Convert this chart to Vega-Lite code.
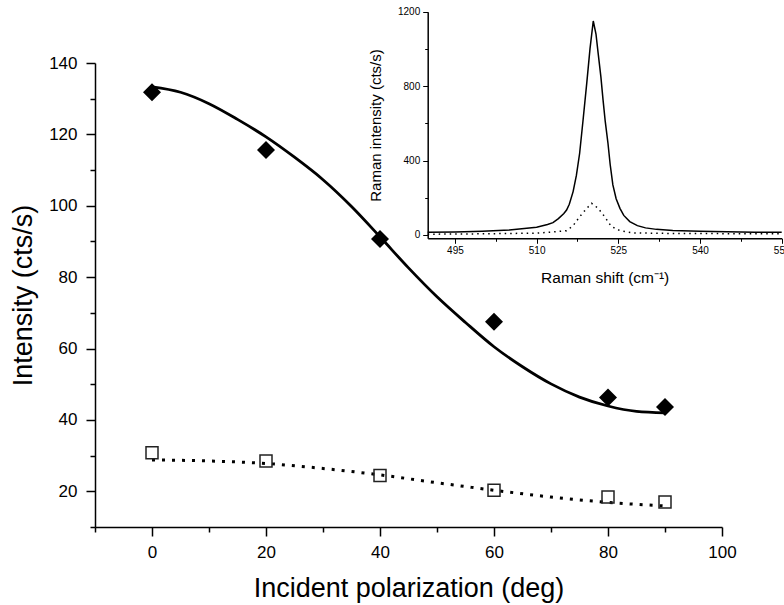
{
  "$schema": "https://vega.github.io/schema/vega-lite/v6.json",
  "width": 627,
  "height": 464,
  "autosize": {"type": "none"},
  "padding": {"left": 95, "top": 63, "right": 62, "bottom": 78},
  "background": "white",
  "config": {
    "view": {"stroke": null},
    "font": "Liberation Sans",
    "axis": {"domainColor": "black", "tickColor": "black", "labelColor": "black", "titleColor": "black", "grid": false, "titleFontWeight": "normal", "labelFont": "Liberation Sans", "titleFont": "Liberation Sans"}
  },
  "datasets": {
    "pts": [
      {"angle": 0, "intensity": 131.8, "series": "parallel"},
      {"angle": 20, "intensity": 115.6, "series": "parallel"},
      {"angle": 40, "intensity": 90.7, "series": "parallel"},
      {"angle": 60, "intensity": 67.5, "series": "parallel"},
      {"angle": 80, "intensity": 46.3, "series": "parallel"},
      {"angle": 90, "intensity": 43.6, "series": "parallel"},
      {"angle": 0, "intensity": 30.8, "series": "perpendicular"},
      {"angle": 20, "intensity": 28.5, "series": "perpendicular"},
      {"angle": 40, "intensity": 24.4, "series": "perpendicular"},
      {"angle": 60, "intensity": 20.3, "series": "perpendicular"},
      {"angle": 80, "intensity": 18.4, "series": "perpendicular"},
      {"angle": 90, "intensity": 17.0, "series": "perpendicular"}
    ],
    "fit": [
      {"angle": 0, "intensity": 133.3, "series": "parallel"},
      {"angle": 5, "intensity": 131.8, "series": "parallel"},
      {"angle": 10, "intensity": 128.6, "series": "parallel"},
      {"angle": 15, "intensity": 124.2, "series": "parallel"},
      {"angle": 20, "intensity": 119.3, "series": "parallel"},
      {"angle": 25, "intensity": 113.6, "series": "parallel"},
      {"angle": 30, "intensity": 107.3, "series": "parallel"},
      {"angle": 35, "intensity": 99.8, "series": "parallel"},
      {"angle": 40, "intensity": 91.3, "series": "parallel"},
      {"angle": 45, "intensity": 82.6, "series": "parallel"},
      {"angle": 50, "intensity": 74.5, "series": "parallel"},
      {"angle": 55, "intensity": 67.3, "series": "parallel"},
      {"angle": 60, "intensity": 60.5, "series": "parallel"},
      {"angle": 65, "intensity": 54.9, "series": "parallel"},
      {"angle": 70, "intensity": 50.1, "series": "parallel"},
      {"angle": 75, "intensity": 46.4, "series": "parallel"},
      {"angle": 80, "intensity": 43.9, "series": "parallel"},
      {"angle": 85, "intensity": 42.4, "series": "parallel"},
      {"angle": 90, "intensity": 42.0, "series": "parallel"},
      {"angle": 0, "intensity": 28.8, "series": "perpendicular"},
      {"angle": 10, "intensity": 28.5, "series": "perpendicular"},
      {"angle": 20, "intensity": 27.8, "series": "perpendicular"},
      {"angle": 30, "intensity": 26.4, "series": "perpendicular"},
      {"angle": 40, "intensity": 24.6, "series": "perpendicular"},
      {"angle": 50, "intensity": 22.4, "series": "perpendicular"},
      {"angle": 60, "intensity": 20.3, "series": "perpendicular"},
      {"angle": 70, "intensity": 18.4, "series": "perpendicular"},
      {"angle": 80, "intensity": 16.9, "series": "perpendicular"},
      {"angle": 90, "intensity": 15.9, "series": "perpendicular"}
    ],
    "raman": [
      {"shift": 490, "counts": 14, "series": "parallel"},
      {"shift": 495, "counts": 16, "series": "parallel"},
      {"shift": 500, "counts": 20, "series": "parallel"},
      {"shift": 505, "counts": 27, "series": "parallel"},
      {"shift": 510, "counts": 42, "series": "parallel"},
      {"shift": 512, "counts": 56, "series": "parallel"},
      {"shift": 513, "counts": 66, "series": "parallel"},
      {"shift": 514, "counts": 88, "series": "parallel"},
      {"shift": 515, "counts": 115, "series": "parallel"},
      {"shift": 515.5, "counts": 134, "series": "parallel"},
      {"shift": 516, "counts": 165, "series": "parallel"},
      {"shift": 516.7, "counts": 233, "series": "parallel"},
      {"shift": 517.3, "counts": 320, "series": "parallel"},
      {"shift": 517.9, "counts": 439, "series": "parallel"},
      {"shift": 518.5, "counts": 610, "series": "parallel"},
      {"shift": 519.2, "counts": 815, "series": "parallel"},
      {"shift": 519.8, "counts": 1000, "series": "parallel"},
      {"shift": 520.4, "counts": 1150, "series": "parallel"},
      {"shift": 520.9, "counts": 1080, "series": "parallel"},
      {"shift": 521.3, "counts": 976, "series": "parallel"},
      {"shift": 521.8, "counts": 850, "series": "parallel"},
      {"shift": 522.2, "counts": 725, "series": "parallel"},
      {"shift": 522.6, "counts": 610, "series": "parallel"},
      {"shift": 523.1, "counts": 493, "series": "parallel"},
      {"shift": 523.5, "counts": 380, "series": "parallel"},
      {"shift": 524, "counts": 269, "series": "parallel"},
      {"shift": 524.6, "counts": 195, "series": "parallel"},
      {"shift": 525.3, "counts": 143, "series": "parallel"},
      {"shift": 526, "counts": 105, "series": "parallel"},
      {"shift": 527.1, "counts": 72, "series": "parallel"},
      {"shift": 528.5, "counts": 50, "series": "parallel"},
      {"shift": 530, "counts": 38, "series": "parallel"},
      {"shift": 532, "counts": 30, "series": "parallel"},
      {"shift": 535, "counts": 24, "series": "parallel"},
      {"shift": 540, "counts": 20, "series": "parallel"},
      {"shift": 545, "counts": 17, "series": "parallel"},
      {"shift": 550, "counts": 15, "series": "parallel"},
      {"shift": 555, "counts": 14, "series": "parallel"},
      {"shift": 490, "counts": 4, "series": "perpendicular"},
      {"shift": 500, "counts": 6, "series": "perpendicular"},
      {"shift": 510, "counts": 10, "series": "perpendicular"},
      {"shift": 513, "counts": 16, "series": "perpendicular"},
      {"shift": 515.5, "counts": 23, "series": "perpendicular"},
      {"shift": 516.7, "counts": 50, "series": "perpendicular"},
      {"shift": 517.9, "counts": 98, "series": "perpendicular"},
      {"shift": 519.2, "counts": 143, "series": "perpendicular"},
      {"shift": 520.1, "counts": 170, "series": "perpendicular"},
      {"shift": 521.3, "counts": 143, "series": "perpendicular"},
      {"shift": 522.5, "counts": 98, "series": "perpendicular"},
      {"shift": 523.7, "counts": 46, "series": "perpendicular"},
      {"shift": 525.3, "counts": 23, "series": "perpendicular"},
      {"shift": 527.7, "counts": 11, "series": "perpendicular"},
      {"shift": 535, "counts": 8, "series": "perpendicular"},
      {"shift": 545, "counts": 7, "series": "perpendicular"},
      {"shift": 555, "counts": 7, "series": "perpendicular"}
    ]
  },
  "layer": [
    {
      "encoding": {
        "x": {
          "field": "angle", "type": "quantitative",
          "scale": {"domain": [-10, 100], "nice": false, "zero": false},
          "axis": {
            "title": "Incident polarization (deg)",
            "values": [-10, 0, 10, 20, 30, 40, 50, 60, 70, 80, 90, 100],
            "format": "d",
            "labelExpr": "datum.value % 20 === 0 ? datum.label : ''",
            "tickSize": {"condition": {"test": "datum.value % 20 === 0", "value": 9}, "value": 5},
            "labelFontSize": 17, "titleFontSize": 27,
            "labelPadding": 8, "titlePadding": 15,
            "domainWidth": 1.5, "tickWidth": 1.5,
            "labelFlush": false, "labelOverlap": false
          }
        },
        "y": {
          "field": "intensity", "type": "quantitative",
          "scale": {"domain": [10, 140], "nice": false, "zero": false},
          "axis": {
            "title": "Intensity (cts/s)",
            "values": [10, 20, 30, 40, 50, 60, 70, 80, 90, 100, 110, 120, 130, 140],
            "format": "d",
            "labelExpr": "datum.value % 20 === 0 ? datum.label : ''",
            "tickSize": {"condition": {"test": "datum.value % 20 === 0", "value": 9}, "value": 5},
            "labelFontSize": 17, "titleFontSize": 27,
            "labelPadding": 9, "titlePadding": 11,
            "domainWidth": 1.5, "tickWidth": 1.5,
            "labelFlush": false, "labelOverlap": false
          }
        }
      },
      "layer": [
        {
          "data": {"name": "fit"},
          "transform": [{"filter": "datum.series === 'parallel'"}],
          "mark": {"type": "line", "color": "black", "strokeWidth": 2.8, "interpolate": "monotone"}
        },
        {
          "data": {"name": "fit"},
          "transform": [{"filter": "datum.series === 'perpendicular'"}],
          "mark": {"type": "line", "color": "black", "strokeWidth": 3, "strokeDash": [3, 7], "interpolate": "monotone"}
        },
        {
          "data": {"name": "pts"},
          "transform": [{"filter": "datum.series === 'parallel'"}],
          "mark": {"type": "point", "shape": "diamond", "filled": true, "color": "black", "size": 324, "opacity": 1}
        },
        {
          "data": {"name": "pts"},
          "transform": [{"filter": "datum.series === 'perpendicular'"}],
          "mark": {"type": "point", "shape": "square", "filled": false, "color": "#222222", "strokeWidth": 1.5, "size": 144, "opacity": 1}
        }
      ]
    },
    {
      "data": {"name": "raman"},
      "encoding": {
        "x": {
          "field": "shift", "type": "quantitative",
          "scale": {"domain": [490, 555], "range": [332.7, 686.7], "nice": false, "zero": false},
          "axis": {
            "orient": "bottom", "offset": -288.7,
            "title": "Raman shift (cm⁻¹)",
            "values": [495, 502.5, 510, 517.5, 525, 532.5, 540, 547.5, 555],
            "format": "d",
            "labelExpr": "datum.value % 15 === 0 ? datum.label : ''",
            "tickSize": {"condition": {"test": "datum.value % 15 === 0", "value": 5}, "value": 3},
            "labelFontSize": 10, "titleFontSize": 15.5,
            "labelPadding": 2, "titlePadding": 15,
            "domainWidth": 1.5, "tickWidth": 1,
            "labelFlush": false, "labelOverlap": false
          }
        },
        "y": {
          "field": "counts", "type": "quantitative",
          "scale": {"domain": [-18, 1200], "range": [175.3, -51.3], "nice": false, "zero": false},
          "axis": {
            "orient": "left", "offset": -332.7,
            "title": "Raman intensity (cts/s)",
            "values": [0, 200, 400, 600, 800, 1000, 1200],
            "format": "d",
            "labelExpr": "datum.value % 400 === 0 ? datum.label : ''",
            "tickSize": {"condition": {"test": "datum.value % 400 === 0", "value": 5}, "value": 3},
            "labelFontSize": 10, "titleFontSize": 15,
            "labelPadding": 3, "titlePadding": 14,
            "domainWidth": 1.5, "tickWidth": 1,
            "labelFlush": false, "labelOverlap": false
          }
        }
      },
      "layer": [
        {
          "transform": [{"filter": "datum.series === 'parallel'"}],
          "mark": {"type": "line", "color": "black", "strokeWidth": 1.5}
        },
        {
          "transform": [{"filter": "datum.series === 'perpendicular'"}],
          "mark": {"type": "line", "color": "black", "strokeWidth": 1.5, "strokeDash": [1.5, 4]}
        }
      ]
    }
  ],
  "resolve": {
    "scale": {"x": "independent", "y": "independent"},
    "axis": {"x": "independent", "y": "independent"}
  }
}
